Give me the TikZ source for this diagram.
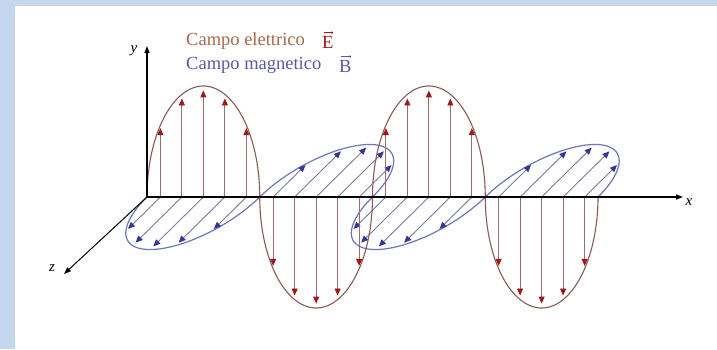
\documentclass[tikz,border=0pt]{standalone}
\usepackage{fontspec}
\setmainfont{Liberation Serif}
\usetikzlibrary{arrows.meta}
\definecolor{bgblue}{HTML}{C5D6EF}
\definecolor{ecurve}{HTML}{8C5A55}
\definecolor{eline}{HTML}{9A6E6E}
\definecolor{ehead}{HTML}{A01818}
\definecolor{bcurve}{HTML}{6B78B8}
\definecolor{bline}{HTML}{7C7CA4}
\definecolor{bhead}{HTML}{34349C}
\definecolor{etext}{HTML}{A8684A}
\definecolor{btext}{HTML}{5A5AA0}
\tikzset{
  axisline/.style={line width=1.3pt,black,-{Triangle[width=5pt,length=7pt]}},
  axlabel/.style={font=\fontsize{15}{15}\selectfont\itshape,inner sep=0pt},
  ewave/.style={line width=1.1pt,ecurve},
  bwave/.style={line width=1.2pt,bcurve},
  earrow/.style={line width=0.9pt,eline,-{Triangle[width=6pt,length=7pt,color=ehead]}},
  barrow/.style={line width=0.9pt,bline,-{Triangle[width=6pt,length=7pt,color=bhead]}},
  legend/.style={anchor=west,inner sep=0pt,font=\fontsize{18.5}{18.5}\selectfont},
  vecarrow/.style={line width=0.6pt,-{To[length=2pt,width=3pt]}}
}
\begin{document}
\begin{tikzpicture}[x=1pt,y=-1pt]
\useasboundingbox (0,0) rectangle (717,349);
\fill[bgblue] (0,0) rectangle (717,349);
\fill[white] (15,6) rectangle (717,349);
% waves
\foreach \k in {0,...,3} {
  \pgfmathsetmacro\c{147+56.375+\k*112.75}
  \pgfmathsetmacro\s{1-2*mod(\k,2)}
  \pgfmathsetmacro\zx{\s*(-0.72)*74}
  \pgfmathsetmacro\zy{\s*0.71*74}
  \draw[bwave] plot[domain=180:0,samples=70,variable=\t] ({\c+56.375*cos(\t)+sin(\t)*\zx},{197+sin(\t)*\zy});
  \foreach \d in {-43,-21.5,0,21.5,43} {
    \pgfmathsetmacro\sn{sqrt(1-(\d/56.375)^2)}
    \draw[barrow] (\c+\d,197) -- ++({\sn*\zx*0.94},{\sn*\zy*0.94});
  }
}
\foreach \k in {0,...,3} {
  \pgfmathsetmacro\c{147+56.375+\k*112.75}
  \pgfmathsetmacro\s{1-2*mod(\k,2)}
  \pgfmathsetmacro\ey{\s*(-111)}
  \draw[ewave] plot[domain=180:0,samples=70,variable=\t] ({\c+56.375*cos(\t)},{197+sin(\t)*\ey});
  \foreach \d in {-43,-21.5,0,21.5,43} {
    \pgfmathsetmacro\sn{sqrt(1-(\d/56.375)^2)}
    \draw[earrow] (\c+\d,197) -- ++(0,{\sn*\ey*0.96});
  }
}
% axes
\coordinate (O) at (147,197);
\coordinate (X) at (683,197);
\coordinate (Y) at (147,46);
\coordinate (Z) at (64,274);
\draw[axisline] (O) -- (X);
\draw[axisline] (O) -- (Y);
\draw[axisline,line width=1pt] (O) -- (Z);
\node[axlabel] (ylab) at (134,51) {y};
\node[axlabel] (xlab) at (689,202) {x};
\node[axlabel] (zlab) at (52,268) {z};
% legend
\node[legend,text=etext] (el) at (186,41) {Campo elettrico};
\node[legend,text=ehead] (ev) at (322,42) {E};
\draw[vecarrow,ehead] ([xshift=1.5pt,yshift=3pt]ev.north west) -- ([xshift=-0.5pt,yshift=3pt]ev.north east);
\node[legend,text=btext] (ml) at (186,65) {Campo magnetico};
\node[legend,text=btext] (bv) at (339,66) {B};
\draw[vecarrow,btext] ([xshift=1.5pt,yshift=3pt]bv.north west) -- ([xshift=-0.5pt,yshift=3pt]bv.north east);
\end{tikzpicture}
\end{document}
